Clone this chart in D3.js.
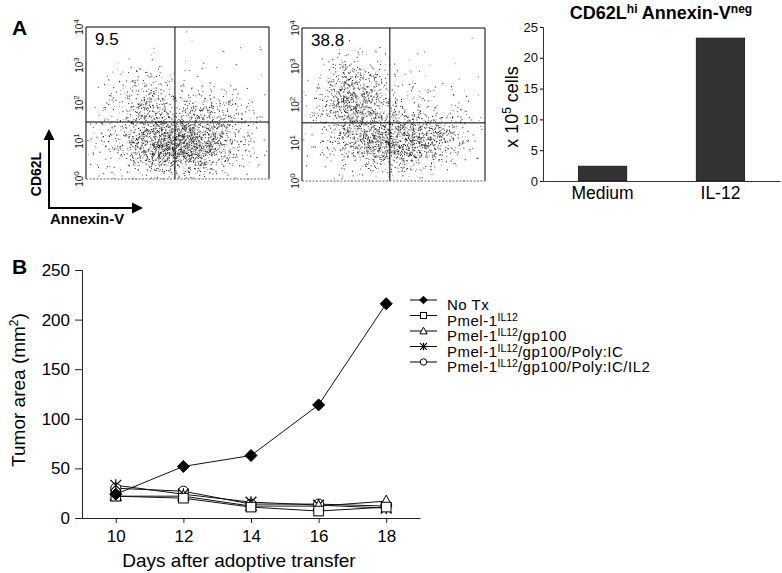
<!DOCTYPE html>
<html><head><meta charset="utf-8">
<script src="https://cdn.jsdelivr.net/npm/d3@7"></script>
<style>
html,body{margin:0;padding:0;background:#fff;}
svg{display:block;font-family:"Liberation Sans",Arial,Helvetica,sans-serif;}
</style></head>
<body>
<svg id="c" width="782" height="573"></svg>
<script>
// ---------------- DATA ----------------
// Panel A flow plots
const flowPercent = ["9.5", "38.8"];
const flowExponents = [0, 1, 2, 3, 4];
const gateX = [0.486, 0.48];      // vertical quadrant gate (fraction of Annexin-V axis)
const gateY = [1.5, 1.52];        // horizontal quadrant gate (log10 decades)
// dot clusters: [centerX(fraction), centerY(decades), spreadX, spreadY, count]
const clusters1 = [
  [0.50, 0.95, 0.15, 0.36, 1400],
  [0.50, 0.90, 0.23, 0.50, 700],
  [0.33, 2.00, 0.10, 0.45, 330],
  [0.70, 1.70, 0.10, 0.30, 230],
  [0.50, 1.80, 0.32, 0.95, 200]
];
const clusters2 = [
  [0.28, 2.15, 0.09, 0.50, 750],
  [0.50, 1.00, 0.15, 0.35, 1000],
  [0.45, 1.40, 0.22, 0.60, 550],
  [0.70, 1.20, 0.10, 0.40, 200],
  [0.50, 2.00, 0.30, 0.90, 150]
];
// Panel A bar chart
const barCategories = ["Medium", "IL-12"];
const barValues = [2.4, 23.2];
const barTicks = [0, 5, 10, 15, 20, 25];
// Panel B
const days = [10, 12, 14, 16, 18];
const seriesNames = ["No Tx", "Pmel-1", "Pmel-1", "Pmel-1", "Pmel-1"];
const seriesSup = ["", "IL12", "IL12", "IL12", "IL12"];
const seriesSuffix = ["", "", "/gp100", "/gp100/Poly:IC", "/gp100/Poly:IC/IL2"];
const seriesMarkers = ["diamond", "square", "triangle", "asterisk", "circle"];
const noTx      = [24, 52, 63, 114, 216];
const pmelIL12  = [22, 20, 11, 7, 11];
const pmelGp100 = [22, 22, 12, 12, 17];
const pmelPoly  = [33, 24, 16, 13, 10];
const pmelIL2   = [30, 27, 14, 14, 12];
const tumorTicks = [0, 50, 100, 150, 200, 250];
const dayTicks = [10, 12, 14, 16, 18];

// ---------------- DRAW ----------------
const svg = d3.select("#c");
const FF = "Liberation Sans, Arial, sans-serif";

// Panel labels
svg.append("text").attr("x", 12).attr("y", 35).attr("font-size", 21).attr("font-weight", "bold").text("A");
svg.append("text").attr("x", 12).attr("y", 274).attr("font-size", 21).attr("font-weight", "bold").text("B");

// deterministic dither sequence for dot texture
function seq(seed) {
  let s = seed >>> 0;
  return () => { s = (s * 1664525 + 1013904223) >>> 0; return s / 4294967296; };
}
function gauss(r) {
  const u = Math.max(r(), 1e-9), v = r();
  return Math.sqrt(-2 * Math.log(u)) * Math.cos(2 * Math.PI * v);
}

function flowPlot(x0, y0, w, h, clusters, pct, gx, gy, seed) {
  const g = svg.append("g");
  const xs = d3.scaleLinear().domain([0, 1]).range([x0, x0 + w]);
  const ys = d3.scaleLinear().domain([0, 4]).range([y0 + h, y0]);
  const r = seq(seed);
  const dots = [];
  clusters.forEach(c => {
    for (let i = 0; i < c[4]; i++) {
      const dx = c[0] + gauss(r) * c[2];
      const dy = c[1] + gauss(r) * c[3];
      if (dx > 0.005 && dx < 0.995 && dy > 0.02 && dy < 3.98) dots.push([dx, dy, r()]);
    }
  });
  g.selectAll("rect.d").data(dots).enter().append("rect")
    .attr("x", d => xs(d[0])).attr("y", d => ys(d[1]))
    .attr("width", 1).attr("height", 1)
    .attr("fill", d => d[2] < 0.45 ? "#111" : (d[2] < 0.75 ? "#555" : "#999"));
  // box
  g.append("path").attr("d", `M${x0},${y0 + h}V${y0}H${x0 + w}V${y0 + h}`)
    .attr("fill", "none").attr("stroke", "#000").attr("stroke-width", 1);
  g.append("line").attr("x1", x0).attr("x2", x0 + w).attr("y1", y0 + h).attr("y2", y0 + h)
    .attr("stroke", "#666").attr("stroke-width", 1).attr("stroke-dasharray", "2,1.5");
  // gates
  g.append("line").attr("x1", xs(gx)).attr("x2", xs(gx)).attr("y1", y0).attr("y2", y0 + h)
    .attr("stroke", "#000").attr("stroke-width", 1);
  g.append("line").attr("x1", x0).attr("x2", x0 + w).attr("y1", ys(gy)).attr("y2", ys(gy))
    .attr("stroke", "#000").attr("stroke-width", 1);
  // y tick labels (rotated)
  flowExponents.forEach(e => {
    const t = g.append("text").attr("transform", `translate(${x0 - 3},${ys(e)}) rotate(-90)`)
      .attr("text-anchor", "middle").attr("font-size", 10).attr("fill", "#222");
    t.append("tspan").text("10");
    t.append("tspan").attr("dy", -4).attr("font-size", 8).text(e);
  });
  g.append("text").attr("x", x0 + 9).attr("y", y0 + 18).attr("font-size", 17).text(pct);
}
flowPlot(86, 27, 183, 152, clusters1, flowPercent[0], gateX[0], gateY[0], 12345);
flowPlot(302, 28, 183, 153, clusters2, flowPercent[1], gateX[1], gateY[1], 67890);

// axis arrows
const ag = svg.append("g");
ag.append("line").attr("x1", 49).attr("y1", 208).attr("x2", 49).attr("y2", 139).attr("stroke", "#000").attr("stroke-width", 2);
ag.append("path").attr("d", "M43.5,140L49,129L54.5,140Z").attr("fill", "#000");
ag.append("line").attr("x1", 48).attr("y1", 208).attr("x2", 133).attr("y2", 208).attr("stroke", "#000").attr("stroke-width", 2);
ag.append("path").attr("d", "M132,202.5L143,208L132,213.5Z").attr("fill", "#000");
ag.append("text").attr("transform", "translate(41,174) rotate(-90)").attr("text-anchor", "middle")
  .attr("font-size", 14).attr("font-weight", "bold").text("CD62L");
ag.append("text").attr("x", 50).attr("y", 224).attr("font-size", 15).attr("font-weight", "bold").text("Annexin-V");

// Bar chart
(function () {
  const x0 = 543, x1 = 780, yTop = 27, yBot = 181;
  const xs = d3.scaleBand().domain(barCategories).range([x0, x1]).paddingInner(0.59).paddingOuter(0.3);
  const ys = d3.scaleLinear().domain([0, 25]).range([yBot, yTop]);
  const g = svg.append("g");
  g.selectAll("rect.b").data(barCategories).enter().append("rect")
    .attr("x", d => xs(d)).attr("width", xs.bandwidth())
    .attr("y", (d, i) => ys(barValues[i])).attr("height", (d, i) => yBot - ys(barValues[i]))
    .attr("fill", "#333").attr("stroke", "#111").attr("stroke-width", 0.8);
  const ya = g.append("g").attr("transform", `translate(${x0},0)`)
    .call(d3.axisLeft(ys).tickValues(barTicks).tickSize(3).tickPadding(2));
  ya.select(".domain").attr("stroke", "#333");
  ya.selectAll("text").attr("font-size", 13).attr("font-family", FF).attr("fill", "#111");
  const xa = g.append("g").attr("transform", `translate(0,${yBot})`)
    .call(d3.axisBottom(xs).tickSize(0).tickPadding(6));
  xa.select(".domain").attr("stroke", "#333");
  xa.selectAll("text").attr("font-size", 17.5).attr("font-family", FF).attr("fill", "#000");
  const t = g.append("text").attr("x", 661).attr("y", 19).attr("text-anchor", "middle")
    .attr("font-size", 18).attr("font-weight", "bold");
  t.append("tspan").text("CD62L");
  t.append("tspan").attr("dy", -6).attr("font-size", 12).text("hi");
  t.append("tspan").attr("dy", 6).text(" Annexin-V");
  t.append("tspan").attr("dy", -6).attr("font-size", 12).text("neg");
  const yl = g.append("text").attr("transform", "translate(518,107) rotate(-90)").attr("text-anchor", "middle")
    .attr("font-size", 18);
  yl.append("tspan").text("x 10");
  yl.append("tspan").attr("dy", -7).attr("font-size", 12).text("5");
  yl.append("tspan").attr("dy", 7).text(" cells");
})();

// Panel B line chart
(function () {
  const xs = d3.scaleLinear().domain([9, 19]).range([82, 420]);
  const ys = d3.scaleLinear().domain([0, 250]).range([518, 270]);
  const g = svg.append("g");
  const ya = g.append("g").attr("transform", "translate(82,0)")
    .call(d3.axisLeft(ys).tickValues(tumorTicks).tickSize(7).tickPadding(5));
  ya.selectAll("text").attr("font-size", 17).attr("font-family", FF).attr("fill", "#000");
  ya.selectAll("line, path").attr("stroke", "#222");
  const xa = g.append("g").attr("transform", "translate(0,518)")
    .call(d3.axisBottom(xs).tickValues(dayTicks).tickSize(5).tickPadding(7).tickSizeOuter(0));
  xa.selectAll("text").attr("font-size", 17).attr("font-family", FF).attr("fill", "#000");
  xa.selectAll("line, path").attr("stroke", "#222");
  const ylab = g.append("text").attr("transform", "translate(25,390) rotate(-90)").attr("text-anchor", "middle").attr("font-size", 19);
  ylab.append("tspan").text("Tumor area (mm");
  ylab.append("tspan").attr("dy", -7).attr("font-size", 12).text("2");
  ylab.append("tspan").attr("dy", 7).text(")");
  g.append("text").attr("x", 239).attr("y", 567).attr("text-anchor", "middle").attr("font-size", 19).text("Days after adoptive transfer");

  const allSeries = [noTx, pmelIL12, pmelGp100, pmelPoly, pmelIL2];
  const line = d3.line().x((d, i) => xs(days[i])).y(d => ys(d));

  function marker(sel, type, s) {
    if (type === "diamond") {
      sel.append("path").attr("d", `M0,${-s}L${s},0L0,${s}L${-s},0Z`).attr("fill", "#000").attr("stroke", "#000");
    } else if (type === "square") {
      const a = s * 0.8;
      sel.append("rect").attr("x", -a).attr("y", -a).attr("width", 2 * a).attr("height", 2 * a)
        .attr("fill", "#fff").attr("stroke", "#000").attr("stroke-width", 1);
    } else if (type === "triangle") {
      const a = s;
      sel.append("path").attr("d", `M0,${-a}L${a * 0.95},${a * 0.75}L${-a * 0.95},${a * 0.75}Z`)
        .attr("fill", "#fff").attr("stroke", "#000").attr("stroke-width", 1);
    } else if (type === "asterisk") {
      const a = s * 0.9;
      sel.append("path").attr("d", `M${-a},${-a}L${a},${a}M${-a},${a}L${a},${-a}M0,${-a * 1.1}L0,${a * 1.1}`)
        .attr("fill", "none").attr("stroke", "#000").attr("stroke-width", 1.2);
    } else if (type === "circle") {
      sel.append("circle").attr("r", s * 0.85).attr("fill", "#fff").attr("stroke", "#000").attr("stroke-width", 1);
    }
  }

  const order = [4, 3, 2, 1, 0];
  order.forEach(k => {
    g.append("path").datum(allSeries[k]).attr("d", line).attr("fill", "none")
      .attr("stroke", "#111").attr("stroke-width", 1);
  });
  order.forEach(k => {
    allSeries[k].forEach((v, i) => {
      const m = g.append("g").attr("transform", `translate(${xs(days[i])},${ys(v)})`);
      marker(m, seriesMarkers[k], 6);
    });
  });

  // legend
  const lg = svg.append("g");
  seriesNames.forEach((n, k) => {
    const y = 300 + k * 15.5;
    lg.append("line").attr("x1", 410).attr("x2", 437).attr("y1", y).attr("y2", y).attr("stroke", "#000").attr("stroke-width", 1);
    const m = lg.append("g").attr("transform", `translate(423.5,${y})`);
    marker(m, seriesMarkers[k], 3.8);
    const t = lg.append("text").attr("x", 447).attr("y", y + 10).attr("font-size", 15).attr("letter-spacing", 0.5);
    t.append("tspan").text(n);
    if (seriesSup[k]) {
      t.append("tspan").attr("dy", -5).attr("font-size", 10.5).attr("letter-spacing", 0).text(seriesSup[k]);
      t.append("tspan").attr("dy", 5).text(seriesSuffix[k]);
    }
  });
})();
</script>
</body></html>
